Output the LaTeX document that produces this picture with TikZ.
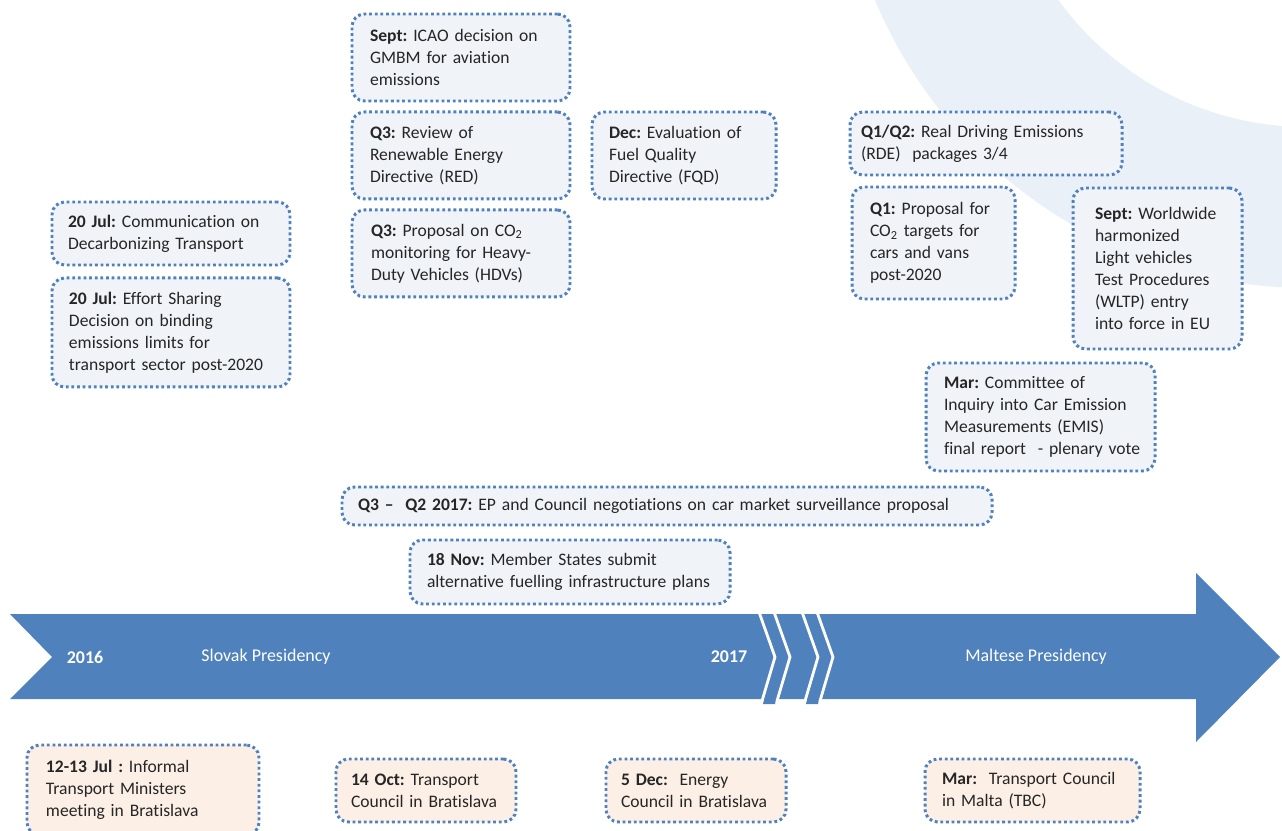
\documentclass[tikz,border=0pt]{standalone}
\usepackage{fontspec}
\setmainfont{Carlito}[Ligatures=NoCommon]
\usepackage{tikz}
\usetikzlibrary{positioning}
\definecolor{arrowBlue}{RGB}{79,129,189}
\definecolor{boxFill}{RGB}{240,243,248}
\definecolor{meetFill}{RGB}{252,239,230}
\definecolor{bandFill}{RGB}{234,240,248}
\definecolor{txtGrey}{RGB}{38,38,38}
\frenchspacing
\tikzset{
    event/.style={draw=arrowBlue, line width=1.7pt, dash pattern=on 1.6pt off 1.6pt,
        rounded corners=0.25cm, fill=boxFill, text=txtGrey, align=left, inner sep=0pt,
        font=\fontsize{10}{12.5}\selectfont},
    meeting/.style={event, fill=meetFill},
    boxSize/.style n args={3}{
        /utils/exec={\pgfmathsetlengthmacro\boxW{#1*0.02cm}\pgfmathsetlengthmacro\boxH{#2*0.02cm}\pgfmathsetlengthmacro\boxTW{#3*0.02cm}},
        minimum width=\boxW, minimum height=\boxH, text width=\boxTW},
    arrowLabel/.style={text=white, inner sep=0pt, font=\fontsize{10.2}{12.5}\selectfont},
    yearLabel/.style={arrowLabel, font=\fontsize{10.2}{12.5}\selectfont\bfseries}
}

\begin{document}
\begin{tikzpicture}[x=0.02cm,y=-0.02cm]
	\useasboundingbox (0,0) rectangle (1282,831);
	% background band
	\begin{scope}
		\clip (0,0) rectangle (1282,831);
		\fill[bandFill, even odd rule] (1307,-180) circle[radius=9.36cm] (1307,-180) circle[radius=6.14cm];
	\end{scope}
	% timeline arrow
	\fill[arrowBlue] (10,614) -- (1196,614) -- (1196,573) -- (1280,657) -- (1196,742) -- (1196,699) -- (10,699) -- (52,657) -- cycle;
	\foreach \dx in {0,43}
		\fill[arrowBlue] (764+\dx,699) -- (776+\dx,699) -- (775+\dx,704) -- (763+\dx,704) -- cycle;
	\foreach \dx in {0,15,43,58}
		\draw[white, line width=1.6pt, line join=miter] (759+\dx,612) -- (775+\dx,657) -- (762+\dx,701);
	\node[yearLabel] (y2016) at (85,657) {2016};
	\node[arrowLabel] (slovak) at (266,657) {Slovak Presidency};
	\node[yearLabel] (y2017) at (729,657) {2017};
	\node[arrowLabel] (maltese) at (1036,657) {Maltese Presidency};
	% events above
	\node[event, boxSize={218}{87}{182}] (icao) at (461,57.5) {\textbf{Sept:} ICAO decision on\\GMBM for aviation\\emissions};
	\node[event, boxSize={218}{87}{182}, below=0.16cm of icao] (red) {\textbf{Q3:} Review of\\Renewable Energy\\Directive (RED)};
	\node[event, boxSize={218}{87}{180}, below=0.16cm of red] (hdv) {\textbf{Q3:} Proposal on CO\textsubscript{2}\\monitoring for Heavy-\\Duty Vehicles (HDVs)};
	\node[event, boxSize={184}{87}{150}] (fqd) at (684,155.5) {\textbf{Dec:} Evaluation of\\Fuel Quality\\Directive (FQD)};
	\node[event, boxSize={272}{63}{250}] (rde) at (986,143.5) {\textbf{Q1/Q2:} Real Driving Emissions\\(RDE)\ \ packages 3/4};
	\node[event, boxSize={163}{112}{127}] (cars) at (933.5,243) {\textbf{Q1:} Proposal for\\CO\textsubscript{2} targets for\\cars and vans\\post-2020};
	\node[event, boxSize={169}{161}{125}] (wltp) at (1157.5,268.5) {\textbf{Sept:} Worldwide\\harmonized\\Light vehicles\\Test Procedures\\(WLTP) entry\\into force in EU};
	\node[event, boxSize={238}{63}{206}] (comm) at (171,233.5) {\textbf{20 Jul:} Communication on\\Decarbonizing Transport};
	\node[event, boxSize={238}{109}{204}, below=0.2cm of comm] (esd) {\textbf{20 Jul:} Effort Sharing\\Decision on binding\\emissions limits for\\transport sector post-2020};
	\node[event, boxSize={229}{108}{193}] (emis) at (1040.5,417) {\textbf{Mar:} Committee of\\Inquiry into Car Emission\\Measurements (EMIS)\\\mbox{final report\ \ - plenary vote}};
	\node[event, boxSize={650}{38}{618}] (surv) at (667,506) {\textbf{Q3 --\ \ Q2 2017:} EP and Council negotiations on car market surveillance proposal};
	\node[event, boxSize={320}{64}{286}] (afi) at (570,572) {\textbf{18 Nov:} Member States submit\\alternative fuelling infrastructure plans};
	% meetings below
	\node[meeting, boxSize={232}{90}{194}] (informal) at (143,790) {\textbf{12-13 Jul :} Informal\\Transport Ministers\\meeting in Bratislava};
	\node[meeting, boxSize={180}{63}{150}] (tcOct) at (426,790.5) {\textbf{14 Oct:} Transport\\Council in Bratislava};
	\node[meeting, boxSize={180}{63}{150}] (ecDec) at (696,790.5) {\textbf{5 Dec:}\ \ Energy\\Council in Bratislava};
	\node[meeting, boxSize={215}{63}{181}] (tcMar) at (1032.5,790.5) {\textbf{Mar:}\ \ Transport Council\\in Malta (TBC)};
\end{tikzpicture}
\end{document}
